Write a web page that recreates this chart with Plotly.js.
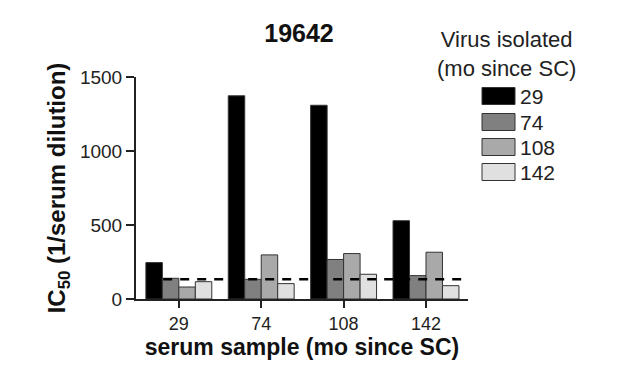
<!DOCTYPE html>
<html>
<head>
<meta charset="utf-8">
<script src="https://cdn.plot.ly/plotly-3.0.1.min.js"></script>
<style>html,body{margin:0;padding:0;background:#fff;}#chart{width:634px;height:372px;}</style>
</head>
<body>
<div id="chart"></div>
<script>
// Data
var categories = ['29', '74', '108', '142'];
var seriesNames = ['29', '74', '108', '142'];
var v29  = [246, 1373, 1309, 529];
var v74  = [140, 133, 267, 158];
var v108 = [81, 298, 307, 316];
var v142 = [117, 104, 167, 90];
var threshold = 133;
var yTicks = [0, 500, 1000, 1500];

var seriesValues = [v29, v74, v108, v142];
var colors = ['#000000', '#808080', '#a9a9a9', '#e0e0e0'];

var W = 634, H = 372;
var L = 136, R = 166, T = 77, B = 73;
var pw = W - L - R, ph = H - T - B;
function px(x) { return (x - L) / pw; }
function py(y) { return (H - B - y) / ph; }

var FONT = 'Liberation Sans, Arial, sans-serif';

var traces = seriesValues.map(function (vals, i) {
  return {
    type: 'bar',
    x: categories,
    y: vals,
    name: seriesNames[i],
    marker: { color: colors[i], line: { color: '#333333', width: 1 } },
    showlegend: false,
    hoverinfo: 'x+y'
  };
});

var shapes = [{
  type: 'line', xref: 'x', yref: 'y',
  x0: -0.19, x1: 3.51, y0: threshold, y1: threshold,
  line: { color: '#000', width: 2.5, dash: '9px,8px' },
  layer: 'above'
}];
var annotations = [{
  xref: 'paper', yref: 'paper', x: px(507), y: py(54),
  xanchor: 'center', yanchor: 'middle',
  text: 'Virus isolated<br>(mo since SC)', showarrow: false,
  font: { family: FONT, size: 22, color: '#222' }
}];
var rowY = [96, 122, 147, 172];
seriesNames.forEach(function (n, i) {
  shapes.push({
    type: 'rect', xref: 'paper', yref: 'paper',
    x0: px(482), x1: px(515), y0: py(rowY[i] + 8.5), y1: py(rowY[i] - 8.5),
    fillcolor: colors[i], line: { color: '#333', width: 1 }
  });
  annotations.push({
    xref: 'paper', yref: 'paper', x: px(518), y: py(rowY[i]),
    xanchor: 'left', yanchor: 'middle', text: n, showarrow: false,
    font: { family: FONT, size: 21, color: '#222' }
  });
});

var layout = {
  width: W, height: H,
  margin: { l: L, r: R, t: T, b: B, pad: 0 },
  paper_bgcolor: '#fff', plot_bgcolor: '#fff',
  font: { family: FONT, color: '#222' },
  barmode: 'group', bargap: 0.2, bargroupgap: 0,
  title: {
    text: '<b>19642</b>', x: px(299), xref: 'paper', xanchor: 'center',
    y: 1 - 33 / H, yanchor: 'middle',
    font: { family: FONT, size: 25, color: '#111' }
  },
  xaxis: {
    type: 'category', range: [-0.52, 3.51],
    showline: true, linecolor: '#222', linewidth: 2,
    ticks: 'outside', ticklen: 7, tickwidth: 2, tickcolor: '#222',
    showgrid: false, zeroline: false,
    tickfont: { family: FONT, size: 18, color: '#222' },
    title: { text: '<b>serum sample (mo since SC)</b>', standoff: 6,
      font: { family: FONT, size: 23, color: '#111' } },
    fixedrange: true
  },
  yaxis: {
    range: [0, 1500], tickvals: yTicks, ticktext: yTicks.map(String),
    showline: true, linecolor: '#222', linewidth: 2,
    ticks: 'outside', ticklen: 8, tickwidth: 2, tickcolor: '#222',
    showgrid: false, zeroline: false,
    tickfont: { family: FONT, size: 19, color: '#222' },
    title: { text: '<b>IC<sub>50</sub> (1/serum dilution)</b>', standoff: 8,
      font: { family: FONT, size: 24, color: '#111' } },
    fixedrange: true
  },
  shapes: shapes,
  annotations: annotations
};

Plotly.newPlot('chart', traces, layout, { displayModeBar: false, staticPlot: true });
</script>
</body>
</html>
